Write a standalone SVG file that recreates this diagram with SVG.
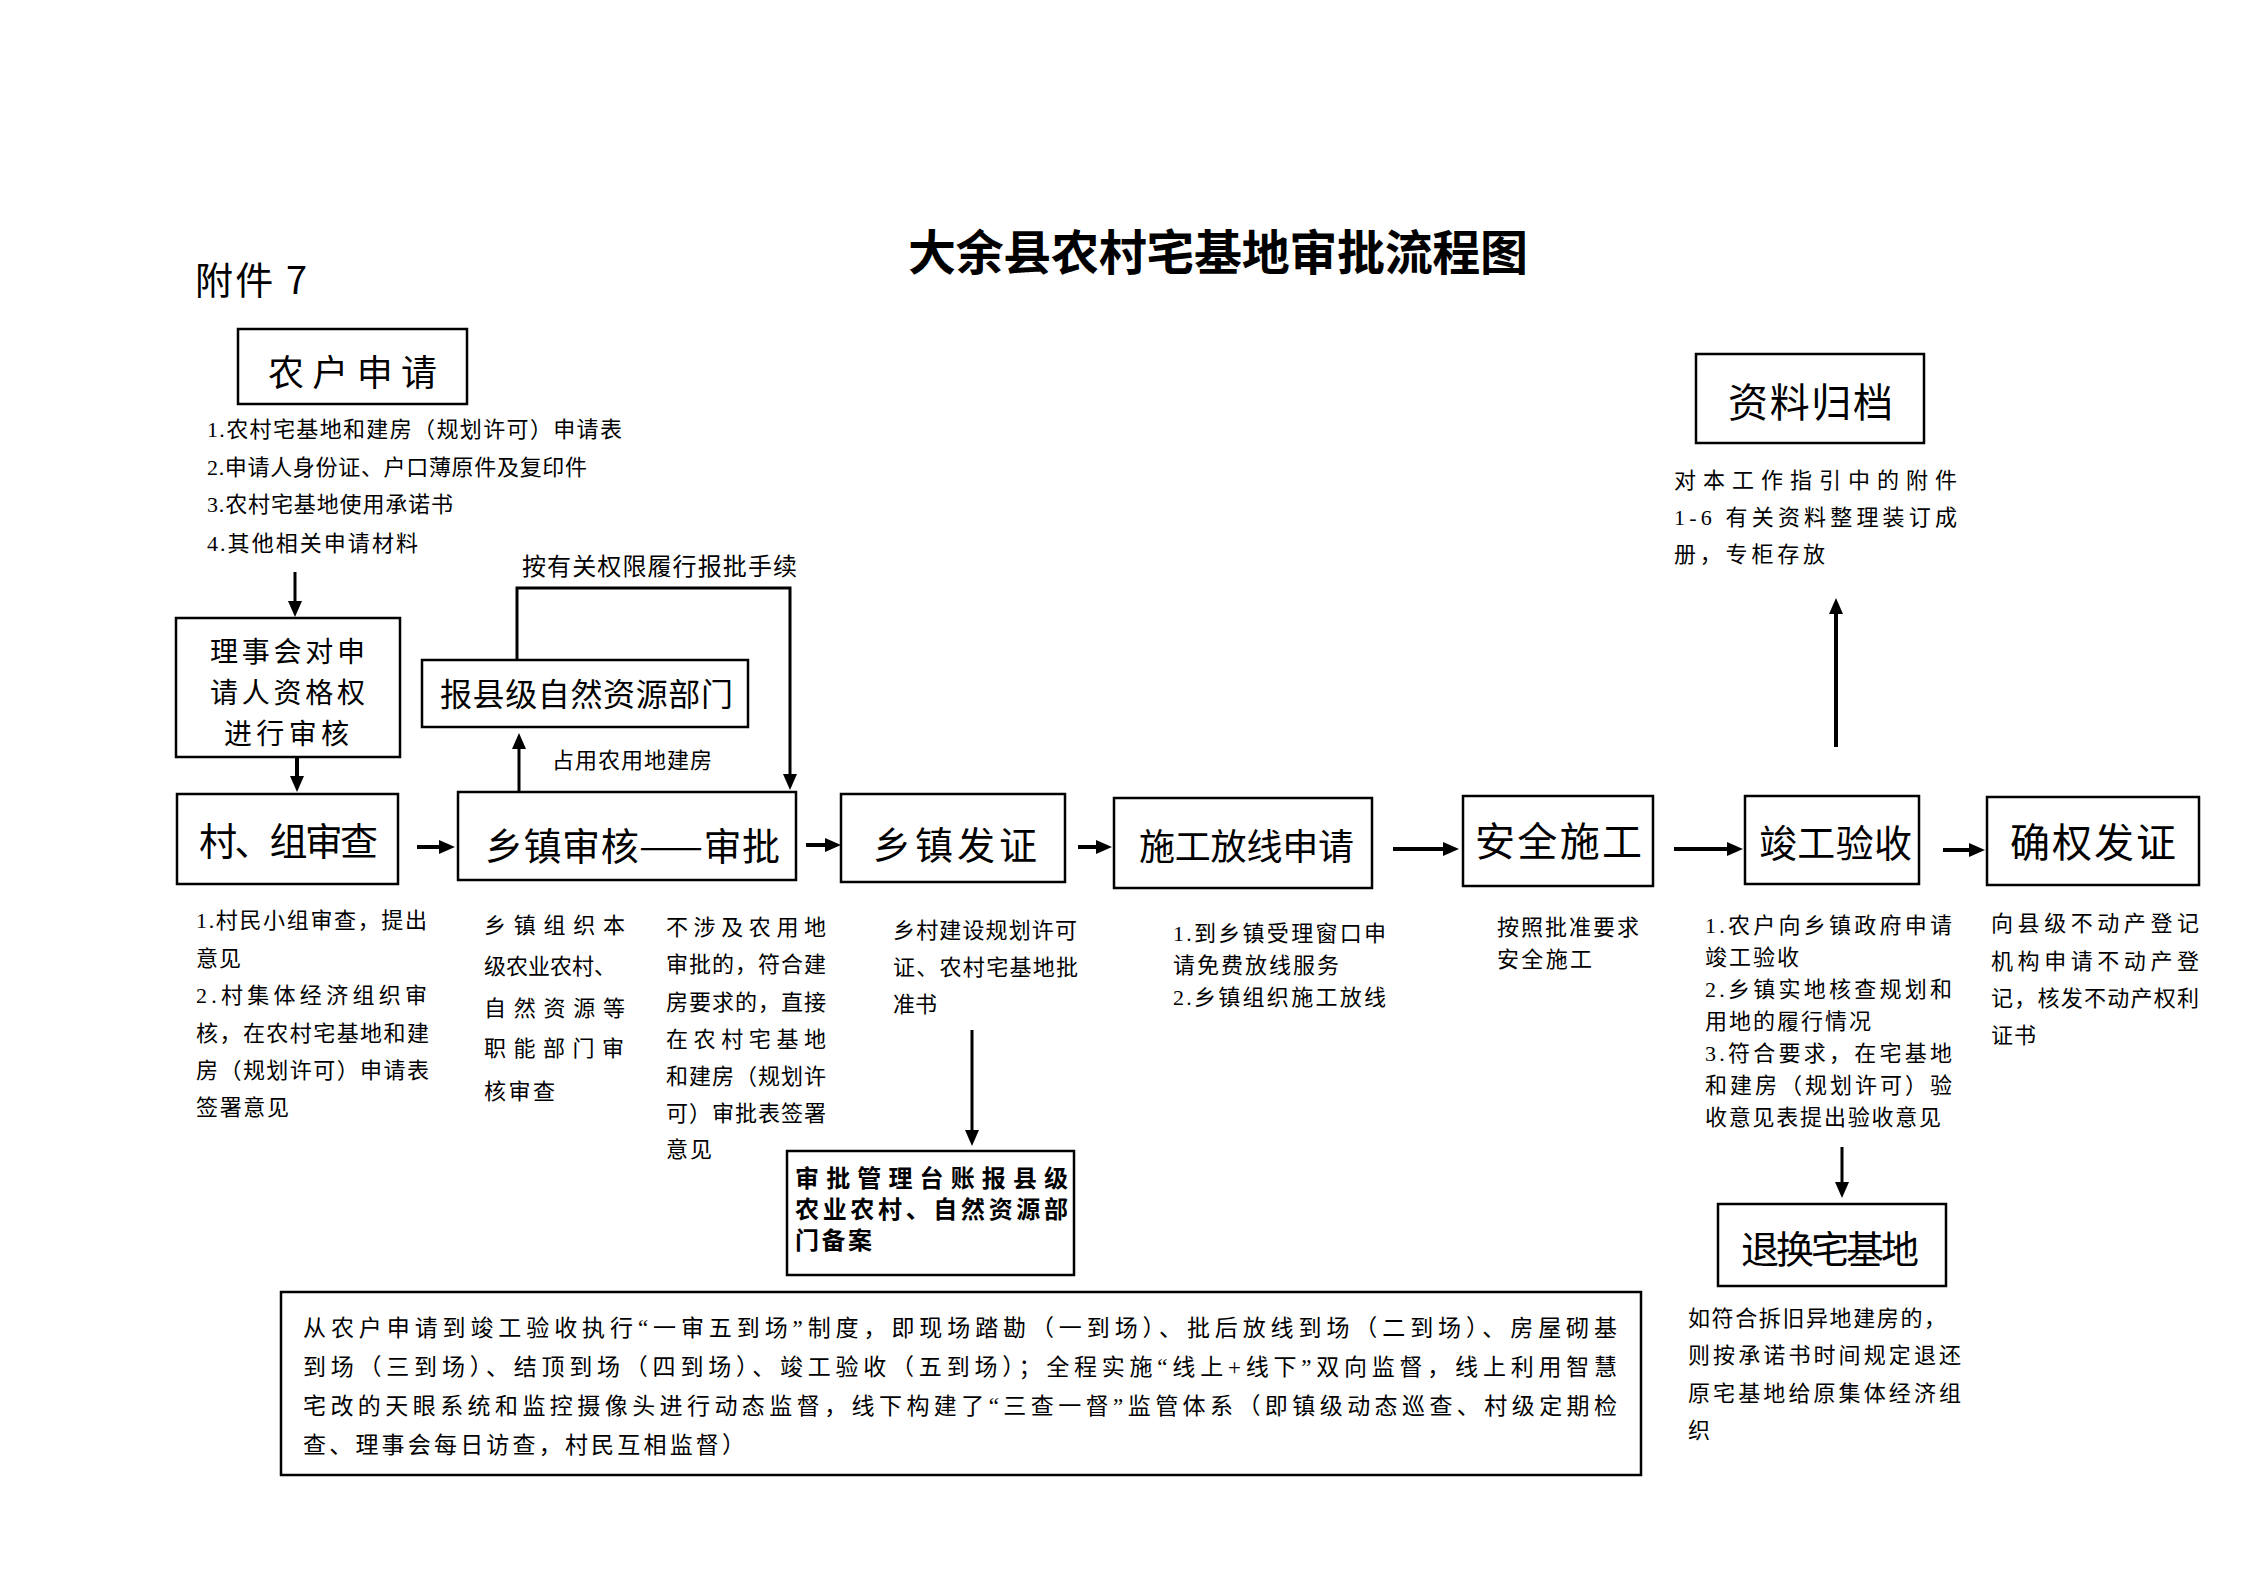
<svg xmlns="http://www.w3.org/2000/svg" width="2245" height="1587" viewBox="0 0 2245 1587">
<style>
text{font-family:"Liberation Serif","Noto Sans CJK SC",serif;fill:#000}
.box{fill:#fff;stroke:#000;stroke-width:2.5}
.lbl{font-family:"Noto Sans CJK SC",sans-serif}
.s{font-size:22px}
.c{stroke:#000;fill:none}
.thick{stroke-width:4}
.mid{stroke-width:3}
.thin{stroke-width:2.2}
</style>
<defs>
<marker id="ah" markerUnits="userSpaceOnUse" viewBox="0 0 16 14" refX="4" refY="7" markerWidth="16" markerHeight="14" orient="auto">
<path d="M0,0 L16,7 L0,14 z" fill="#000"/>
</marker>
</defs>
<rect width="2245" height="1587" fill="#fff"/>

<text class="lbl" x="195" y="294" font-size="38" textLength="112">附件 7</text>
<text class="lbl" x="908" y="270" font-size="48" font-weight="bold" textLength="620">大余县农村宅基地审批流程图</text>

<g id="connectors">
<line class="c mid" x1="295" y1="572" x2="295" y2="605" marker-end="url(#ah)"/>
<line class="c thick" x1="297" y1="757" x2="297" y2="780" marker-end="url(#ah)"/>
<line class="c thick" x1="417" y1="847" x2="443" y2="847" marker-end="url(#ah)"/>
<line class="c mid" x1="519" y1="792" x2="519" y2="745" marker-end="url(#ah)"/>
<polyline class="c mid" points="517,660 517,588 790,588 790,778" marker-end="url(#ah)"/>
<line class="c thick" x1="806" y1="845" x2="829" y2="845" marker-end="url(#ah)"/>
<line class="c thick" x1="1078" y1="847" x2="1100" y2="847" marker-end="url(#ah)"/>
<line class="c thick" x1="1393" y1="849" x2="1447" y2="849" marker-end="url(#ah)"/>
<line class="c thick" x1="1674" y1="849" x2="1731" y2="849" marker-end="url(#ah)"/>
<line class="c thick" x1="1943" y1="850" x2="1973" y2="850" marker-end="url(#ah)"/>
<line class="c thick" x1="1836" y1="747" x2="1836" y2="610" marker-end="url(#ah)"/>
<line class="c mid" x1="972" y1="1030" x2="972" y2="1134" marker-end="url(#ah)"/>
<line class="c mid" x1="1842" y1="1147" x2="1842" y2="1186" marker-end="url(#ah)"/>
</g>

<g id="n-apply">
<rect class="box" x="238" y="329" width="229" height="75"/>
<text class="lbl" x="268" y="386" font-size="36" textLength="169">农户申请</text>
<text class="s" x="207" y="437" textLength="415">1.农村宅基地和建房（规划许可）申请表</text>
<text class="s" x="207" y="475" textLength="380">2.申请人身份证、户口薄原件及复印件</text>
<text class="s" x="207" y="512" textLength="246">3.农村宅基地使用承诺书</text>
<text class="s" x="207" y="551" textLength="211">4.其他相关申请材料</text>
</g>

<g id="n-council">
<rect class="box" x="176" y="618" width="224" height="139"/>
<text class="lbl" x="210" y="662" font-size="28" textLength="155">理事会对申</text>
<text class="lbl" x="210" y="703" font-size="28" textLength="155">请人资格权</text>
<text class="lbl" x="224" y="744" font-size="28" textLength="125">进行审核</text>
</g>

<g id="n-village">
<rect class="box" x="177" y="794" width="221" height="90"/>
<text class="lbl" x="199" y="855" font-size="38" textLength="179">村、组审查</text>
<text class="s" x="196" y="928" textLength="231">1.村民小组审查，提出</text>
<text class="s" x="196" y="966" textLength="45">意见</text>
<text class="s" x="196" y="1003" textLength="231">2.村集体经济组织审</text>
<text class="s" x="196" y="1041" textLength="233">核，在农村宅基地和建</text>
<text class="s" x="196" y="1078" textLength="233">房（规划许可）申请表</text>
<text class="s" x="196" y="1115" textLength="93">签署意见</text>
</g>

<g id="n-county">
<rect class="box" x="422" y="660" width="326" height="67"/>
<text class="lbl" x="440" y="706" font-size="32" textLength="293">报县级自然资源部门</text>
<text class="s" x="552" y="768" textLength="160">占用农用地建房</text>
<text x="522" y="575" font-size="24" textLength="275">按有关权限履行报批手续</text>
</g>

<g id="n-town">
<rect class="box" x="458" y="792" width="338" height="88"/>
<text class="lbl" x="485" y="860" font-size="38" textLength="295">乡镇审核——审批</text>
<text class="s" x="484" y="933" textLength="141">乡镇组织本</text>
<text class="s" x="484" y="974" textLength="132">级农业农村、</text>
<text class="s" x="484" y="1016" textLength="141">自然资源等</text>
<text class="s" x="484" y="1056" textLength="140">职能部门审</text>
<text class="s" x="484" y="1099" textLength="71">核审查</text>
<text class="s" x="666" y="935" textLength="160">不涉及农用地</text>
<text class="s" x="666" y="972" textLength="160">审批的，符合建</text>
<text class="s" x="666" y="1010" textLength="160">房要求的，直接</text>
<text class="s" x="666" y="1047" textLength="160">在农村宅基地</text>
<text class="s" x="666" y="1084" textLength="160">和建房（规划许</text>
<text class="s" x="666" y="1121" textLength="160">可）审批表签署</text>
<text class="s" x="666" y="1157" textLength="46">意见</text>
</g>

<g id="n-permit">
<rect class="box" x="841" y="794" width="224" height="88"/>
<text class="lbl" x="873" y="859" font-size="38" textLength="164">乡镇发证</text>
<text class="s" x="893" y="938" textLength="184">乡村建设规划许可</text>
<text class="s" x="893" y="975" textLength="185">证、农村宅基地批</text>
<text class="s" x="893" y="1012" textLength="44">准书</text>
</g>

<g id="n-ledger">
<rect class="box" x="787" y="1151" width="287" height="124"/>
<text x="795" y="1187" font-size="24" font-weight="bold" textLength="273">审批管理台账报县级</text>
<text x="795" y="1218" font-size="24" font-weight="bold" textLength="273">农业农村、自然资源部</text>
<text x="795" y="1249" font-size="24" font-weight="bold" textLength="77">门备案</text>
</g>

<g id="n-layout">
<rect class="box" x="1114" y="798" width="258" height="90"/>
<text class="lbl" x="1139" y="860" font-size="36" textLength="215">施工放线申请</text>
<text class="s" x="1173" y="941" textLength="213">1.到乡镇受理窗口申</text>
<text class="s" x="1173" y="973" textLength="166">请免费放线服务</text>
<text class="s" x="1173" y="1005" textLength="213">2.乡镇组织施工放线</text>
</g>

<g id="n-build">
<rect class="box" x="1463" y="796" width="190" height="90"/>
<text class="lbl" x="1475" y="856" font-size="40" textLength="167">安全施工</text>
<text class="s" x="1497" y="935" textLength="142">按照批准要求</text>
<text class="s" x="1497" y="967" textLength="95">安全施工</text>
</g>

<g id="n-accept">
<rect class="box" x="1745" y="796" width="174" height="88"/>
<text class="lbl" x="1759" y="857" font-size="38" textLength="153">竣工验收</text>
<text class="s" x="1705" y="933" textLength="247">1.农户向乡镇政府申请</text>
<text class="s" x="1705" y="965" textLength="94">竣工验收</text>
<text class="s" x="1705" y="997" textLength="247">2.乡镇实地核查规划和</text>
<text class="s" x="1705" y="1029" textLength="166">用地的履行情况</text>
<text class="s" x="1705" y="1061" textLength="247">3.符合要求，在宅基地</text>
<text class="s" x="1705" y="1093" textLength="247">和建房（规划许可）验</text>
<text class="s" x="1705" y="1125" textLength="236">收意见表提出验收意见</text>
</g>

<g id="n-cert">
<rect class="box" x="1987" y="797" width="212" height="88"/>
<text class="lbl" x="2010" y="857" font-size="40" textLength="166">确权发证</text>
<text class="s" x="1991" y="931" textLength="208">向县级不动产登记</text>
<text class="s" x="1991" y="969" textLength="208">机构申请不动产登</text>
<text class="s" x="1991" y="1006" textLength="208">记，核发不动产权利</text>
<text class="s" x="1991" y="1043" textLength="45">证书</text>
</g>

<g id="n-archive">
<rect class="box" x="1696" y="354" width="228" height="89"/>
<text class="lbl" x="1728" y="417" font-size="40" textLength="165">资料归档</text>
<text class="s" x="1674" y="488" textLength="283">对本工作指引中的附件</text>
<text class="s" x="1674" y="525" textLength="283">1-6 有关资料整理装订成</text>
<text class="s" x="1674" y="562" textLength="151">册，专柜存放</text>
</g>

<g id="n-return">
<rect class="box" x="1718" y="1204" width="228" height="82"/>
<text class="lbl" x="1741" y="1263" font-size="38" textLength="178">退换宅基地</text>
<text class="s" x="1688" y="1326" textLength="258">如符合拆旧异地建房的，</text>
<text class="s" x="1688" y="1363" textLength="273">则按承诺书时间规定退还</text>
<text class="s" x="1688" y="1401" textLength="273">原宅基地给原集体经济组</text>
<text class="s" x="1688" y="1438">织</text>
</g>

<g id="n-note">
<rect class="box" x="281" y="1292" width="1360" height="183"/>
<text x="303" y="1336" font-size="23" textLength="1314">从农户申请到竣工验收执行“一审五到场”制度，即现场踏勘（一到场）、批后放线到场（二到场）、房屋砌基</text>
<text x="303" y="1375" font-size="23" textLength="1314">到场（三到场）、结顶到场（四到场）、竣工验收（五到场）；全程实施“线上+线下”双向监督，线上利用智慧</text>
<text x="303" y="1414" font-size="23" textLength="1314">宅改的天眼系统和监控摄像头进行动态监督，线下构建了“三查一督”监管体系（即镇级动态巡查、村级定期检</text>
<text x="303" y="1453" font-size="23" textLength="442">查、理事会每日访查，村民互相监督）</text>
</g>
</svg>
